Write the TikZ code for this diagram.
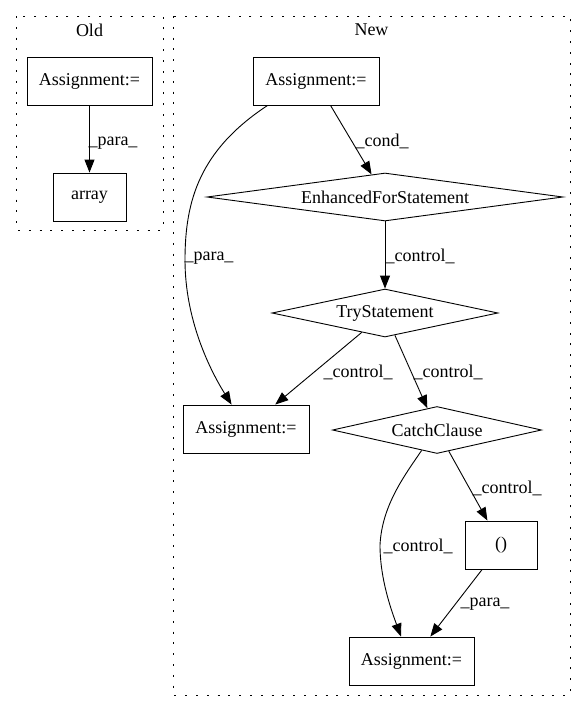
\documentclass[tikz,border=0pt]{standalone}
\usepackage{fontspec}
\setmainfont{Liberation Serif}
\usetikzlibrary{shapes.geometric,arrows.meta}

\begin{document}
\begin{tikzpicture}[x=1pt,y=-1pt,
  font=\fontsize{18}{20}\selectfont,
  line width=0.9pt,
  >={Triangle[length=13pt,width=10pt]},
  stmt/.style={draw,rectangle,inner sep=0pt,minimum height=48pt},
  branch/.style={draw,diamond,inner sep=0pt},
  lbl/.style={inner sep=0pt},
  cluster/.style={dash pattern=on 2pt off 8.8pt}]
\useasboundingbox (0,0) rectangle (587,712);
% Old
\draw[cluster] (16,16) rectangle (163,230);
\node[lbl] (oldtitle) at (89.5,30) {Old};
\node[stmt,minimum width=125pt] (oassign) at (89.5,81) {Assignment:=};
\node[stmt,minimum width=73pt] (array) at (89.5,197) {array};
\draw[->] (oassign) -- (array);
\node[lbl] (opara) at (113,143) {\_para\_};
% New
\draw[cluster] (173,16) rectangle (570,695);
\node[lbl] (newtitle) at (371.5,30) {New};
\node[stmt,minimum width=126pt] (nassign) at (316,81) {Assignment:=};
\node[branch,minimum width=356pt,minimum height=48pt,aspect=7.4] (efor) at (385,197) {EnhancedForStatement};
\node[branch,minimum width=226pt,minimum height=48pt,aspect=4.7] (try) at (385,313) {TryStatement};
\node[stmt,minimum width=126pt] (massign) at (246,429) {Assignment:=};
\node[branch,minimum width=209pt,minimum height=47pt,aspect=4.4] (catch) at (437,430) {CatchClause};
\node[stmt,minimum width=72pt] (paren) at (501,545) {()};
\node[stmt,minimum width=125pt] (bassign) at (411.5,661) {Assignment:=};
\draw[->] (nassign) -- (efor);
\node[lbl] (lcond) at (382,141) {\_cond\_};
\draw[->] (efor) -- (try);
\node[lbl] (lctrl) at (420,256) {\_control\_};
\draw[->] ([xshift=15pt]nassign.south west) .. controls (200,150) and (185,200) .. (185,260)
  .. controls (185,320) and (210,370) .. ([xshift=49pt]massign.north west);
\node[lbl] (lpara) at (209,258) {\_para\_};
\draw[->] (try) -- (massign);
\node[lbl] (ltrym) at (358,372) {\_control\_};
\draw[->] (try) -- (catch);
\node[lbl] (ltryc) at (448,372) {\_control\_};
\draw[->] (catch) -- (paren);
\node[lbl] (lcatp) at (507,488) {\_control\_};
\draw[->] (catch.233) .. controls (405,475) and (382,505) .. (380,545)
  .. controls (380,580) and (392,612) .. ([xshift=-10.5pt]bassign.north);
\node[lbl] (lcatb) at (418,546) {\_control\_};
\draw[->] (paren) -- (bassign);
\node[lbl] (lparb) at (485,604) {\_para\_};
\end{tikzpicture}
\end{document}
